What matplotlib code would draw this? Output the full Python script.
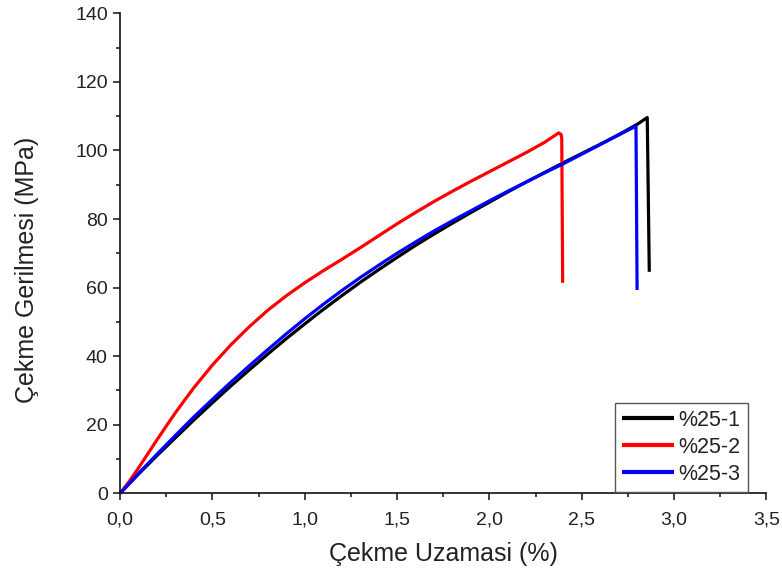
import matplotlib
matplotlib.use("Agg")
import matplotlib.pyplot as plt
from matplotlib.ticker import MultipleLocator, FuncFormatter

plt.rcParams['font.family'] = ['Liberation Sans', 'DejaVu Sans']

# ---- data ----
x1 = [0.0, 0.1, 0.2, 0.3, 0.4, 0.5, 0.6, 0.7, 0.8, 0.9, 1.0, 1.1, 1.2, 1.3, 1.4,
      1.5, 1.6, 1.7, 1.8, 1.9, 2.0, 2.1, 2.2, 2.3, 2.4, 2.5, 2.6, 2.7, 2.8, 2.855, 2.866]
y1 = [0.0, 5.6, 11.0, 16.2, 21.4, 26.4, 31.3, 36.0, 40.6, 45.1, 49.4, 53.6, 57.6, 61.5, 65.2,
      68.8, 72.3, 75.6, 78.8, 81.9, 84.9, 87.9, 90.8, 93.6, 96.4, 99.1, 101.8, 104.6, 107.6, 109.6, 64.6]

x2 = [0.0, 0.05, 0.1, 0.15, 0.2, 0.25, 0.3, 0.35, 0.4, 0.5, 0.6, 0.7, 0.8, 0.9, 1.0, 1.1,
      1.2, 1.3, 1.4, 1.5, 1.6, 1.7, 1.8, 1.9, 2.0, 2.1, 2.2, 2.3, 2.35, 2.375, 2.388, 2.392, 2.397]
y2 = [0.0, 3.5, 7.4, 11.5, 15.6, 19.6, 23.5, 27.2, 30.8, 37.4, 43.3, 48.6, 53.4, 57.6, 61.4, 64.9,
      68.2, 71.6, 75.1, 78.6, 81.9, 85.1, 88.1, 91.0, 93.8, 96.6, 99.4, 102.4, 104.2, 105.1, 104.7, 103.6, 61.4]

x3 = [0.0, 0.1, 0.2, 0.3, 0.4, 0.5, 0.6, 0.7, 0.8, 0.9, 1.0, 1.1, 1.2, 1.3, 1.4,
      1.5, 1.6, 1.7, 1.8, 1.9, 2.0, 2.1, 2.2, 2.3, 2.4, 2.5, 2.6, 2.7, 2.794, 2.80]
y3 = [0.0, 5.8, 11.4, 16.9, 22.3, 27.4, 32.4, 37.2, 41.9, 46.5, 50.9, 55.1, 59.1, 62.9, 66.5,
      70.0, 73.3, 76.5, 79.5, 82.4, 85.3, 88.1, 90.8, 93.5, 96.1, 98.9, 101.7, 104.5, 107.1, 59.3]

labels = ['%25-1', '%25-2', '%25-3']
colors = ['#000000', '#ff0000', '#0000ff']

xticks_major = [0.0, 0.5, 1.0, 1.5, 2.0, 2.5, 3.0, 3.5]
yticks_major = [0, 20, 40, 60, 80, 100, 120, 140]

fig = plt.figure(figsize=(7.82, 5.78), dpi=100)
ax = fig.add_axes([0.1535, 0.1465, 0.8265, 0.8305])

for xs, ys, c, lab in zip([x1, x2, x3], [y1, y2, y3], colors, labels):
    ax.plot(xs, ys, color=c, lw=2.3, label=lab, solid_joinstyle='round',
            solid_capstyle='butt', clip_on=False)

ax.set_xlim(0, 3.5)
ax.set_ylim(0, 140)
ax.set_xticks(xticks_major)
ax.set_yticks(yticks_major)
ax.xaxis.set_minor_locator(MultipleLocator(0.25))
ax.yaxis.set_minor_locator(MultipleLocator(10))
ax.xaxis.set_major_formatter(FuncFormatter(lambda v, p: f"{v:.1f}".replace('.', ',')))
ax.yaxis.set_major_formatter(FuncFormatter(lambda v, p: f"{int(round(v))}"))

for s in ['top', 'right']:
    ax.spines[s].set_visible(False)
for s in ['left', 'bottom']:
    ax.spines[s].set_linewidth(1.2)
    ax.spines[s].set_color('#111111')

ax.tick_params(which='major', direction='out', length=4.8, width=1.1, color='#111111',
               labelsize=14, labelcolor='#222222')
ax.tick_params(axis='x', which='major', pad=8.5)
ax.tick_params(axis='y', which='major', pad=4)
ax.tick_params(which='minor', direction='out', length=2.6, width=1.1, color='#111111')

ax.set_xlabel('Çekme Uzamasi (%)', fontsize=18, color='#222222')
ax.set_ylabel('Çekme Gerilmesi (MPa)', fontsize=18, color='#222222')
ax.xaxis.set_label_coords(0.5, -0.101)
ax.yaxis.set_label_coords(-0.125, 0.465)

leg = ax.legend(loc='lower right', bbox_to_anchor=(0.971, 0.003), borderaxespad=0,
                fontsize=15.5, handlelength=2.4, handletextpad=0.2, labelspacing=0.28,
                borderpad=0.33, fancybox=False, framealpha=1)
leg.get_frame().set_edgecolor('#555555')
leg.get_frame().set_linewidth(1.0)
for h in leg.get_lines():
    h.set_linewidth(3.0)
for t in leg.get_texts():
    t.set_color('#222222')

fig.savefig('out.png', dpi=100)
